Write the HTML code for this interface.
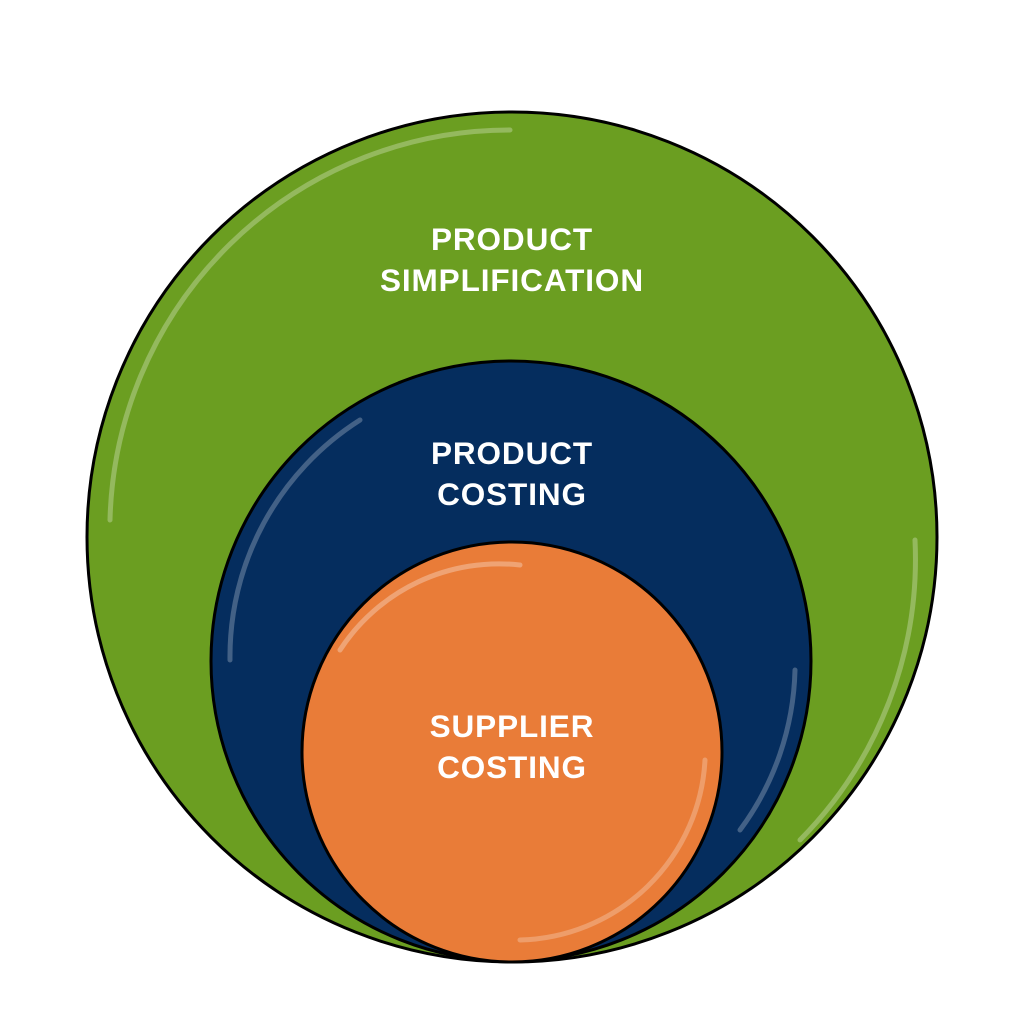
<!DOCTYPE html>
<html><head><style>
html,body{margin:0;padding:0;background:#fff;width:1024px;height:1024px;overflow:hidden}
svg text{font-family:"Liberation Sans",sans-serif;font-weight:bold;fill:#fff;text-anchor:middle;font-size:31.5px;letter-spacing:0.9px}
</style></head><body>
<svg width="1024" height="1024" viewBox="0 0 1024 1024">
<circle cx="512" cy="537" r="425" fill="#6b9e21" stroke="#000" stroke-width="3"/>
<path d="M110 520 A400 400 0 0 1 510 130" fill="none" stroke="#fff" stroke-opacity="0.28" stroke-width="5" stroke-linecap="round"/>
<path d="M915 540 A400 400 0 0 1 800 840" fill="none" stroke="#fff" stroke-opacity="0.28" stroke-width="5" stroke-linecap="round"/>
<circle cx="511" cy="661" r="300" fill="#052d5e" stroke="#000" stroke-width="3"/>
<path d="M230 660 A280 280 0 0 1 360 420" fill="none" stroke="#fff" stroke-opacity="0.25" stroke-width="5" stroke-linecap="round"/>
<path d="M795 670 A280 280 0 0 1 740 830" fill="none" stroke="#fff" stroke-opacity="0.25" stroke-width="5" stroke-linecap="round"/>
<circle cx="512" cy="752" r="210" fill="#e97c38" stroke="#000" stroke-width="3"/>
<path d="M340 650 A190 190 0 0 1 520 565" fill="none" stroke="#fff" stroke-opacity="0.3" stroke-width="5" stroke-linecap="round"/>
<path d="M705 760 A190 190 0 0 1 520 940" fill="none" stroke="#fff" stroke-opacity="0.25" stroke-width="5" stroke-linecap="round"/>
<text x="512" y="250">PRODUCT</text>
<text x="512" y="291">SIMPLIFICATION</text>
<text x="512" y="464">PRODUCT</text>
<text x="512" y="505">COSTING</text>
<text x="512" y="737">SUPPLIER</text>
<text x="512" y="778">COSTING</text>
</svg>
</body></html>
